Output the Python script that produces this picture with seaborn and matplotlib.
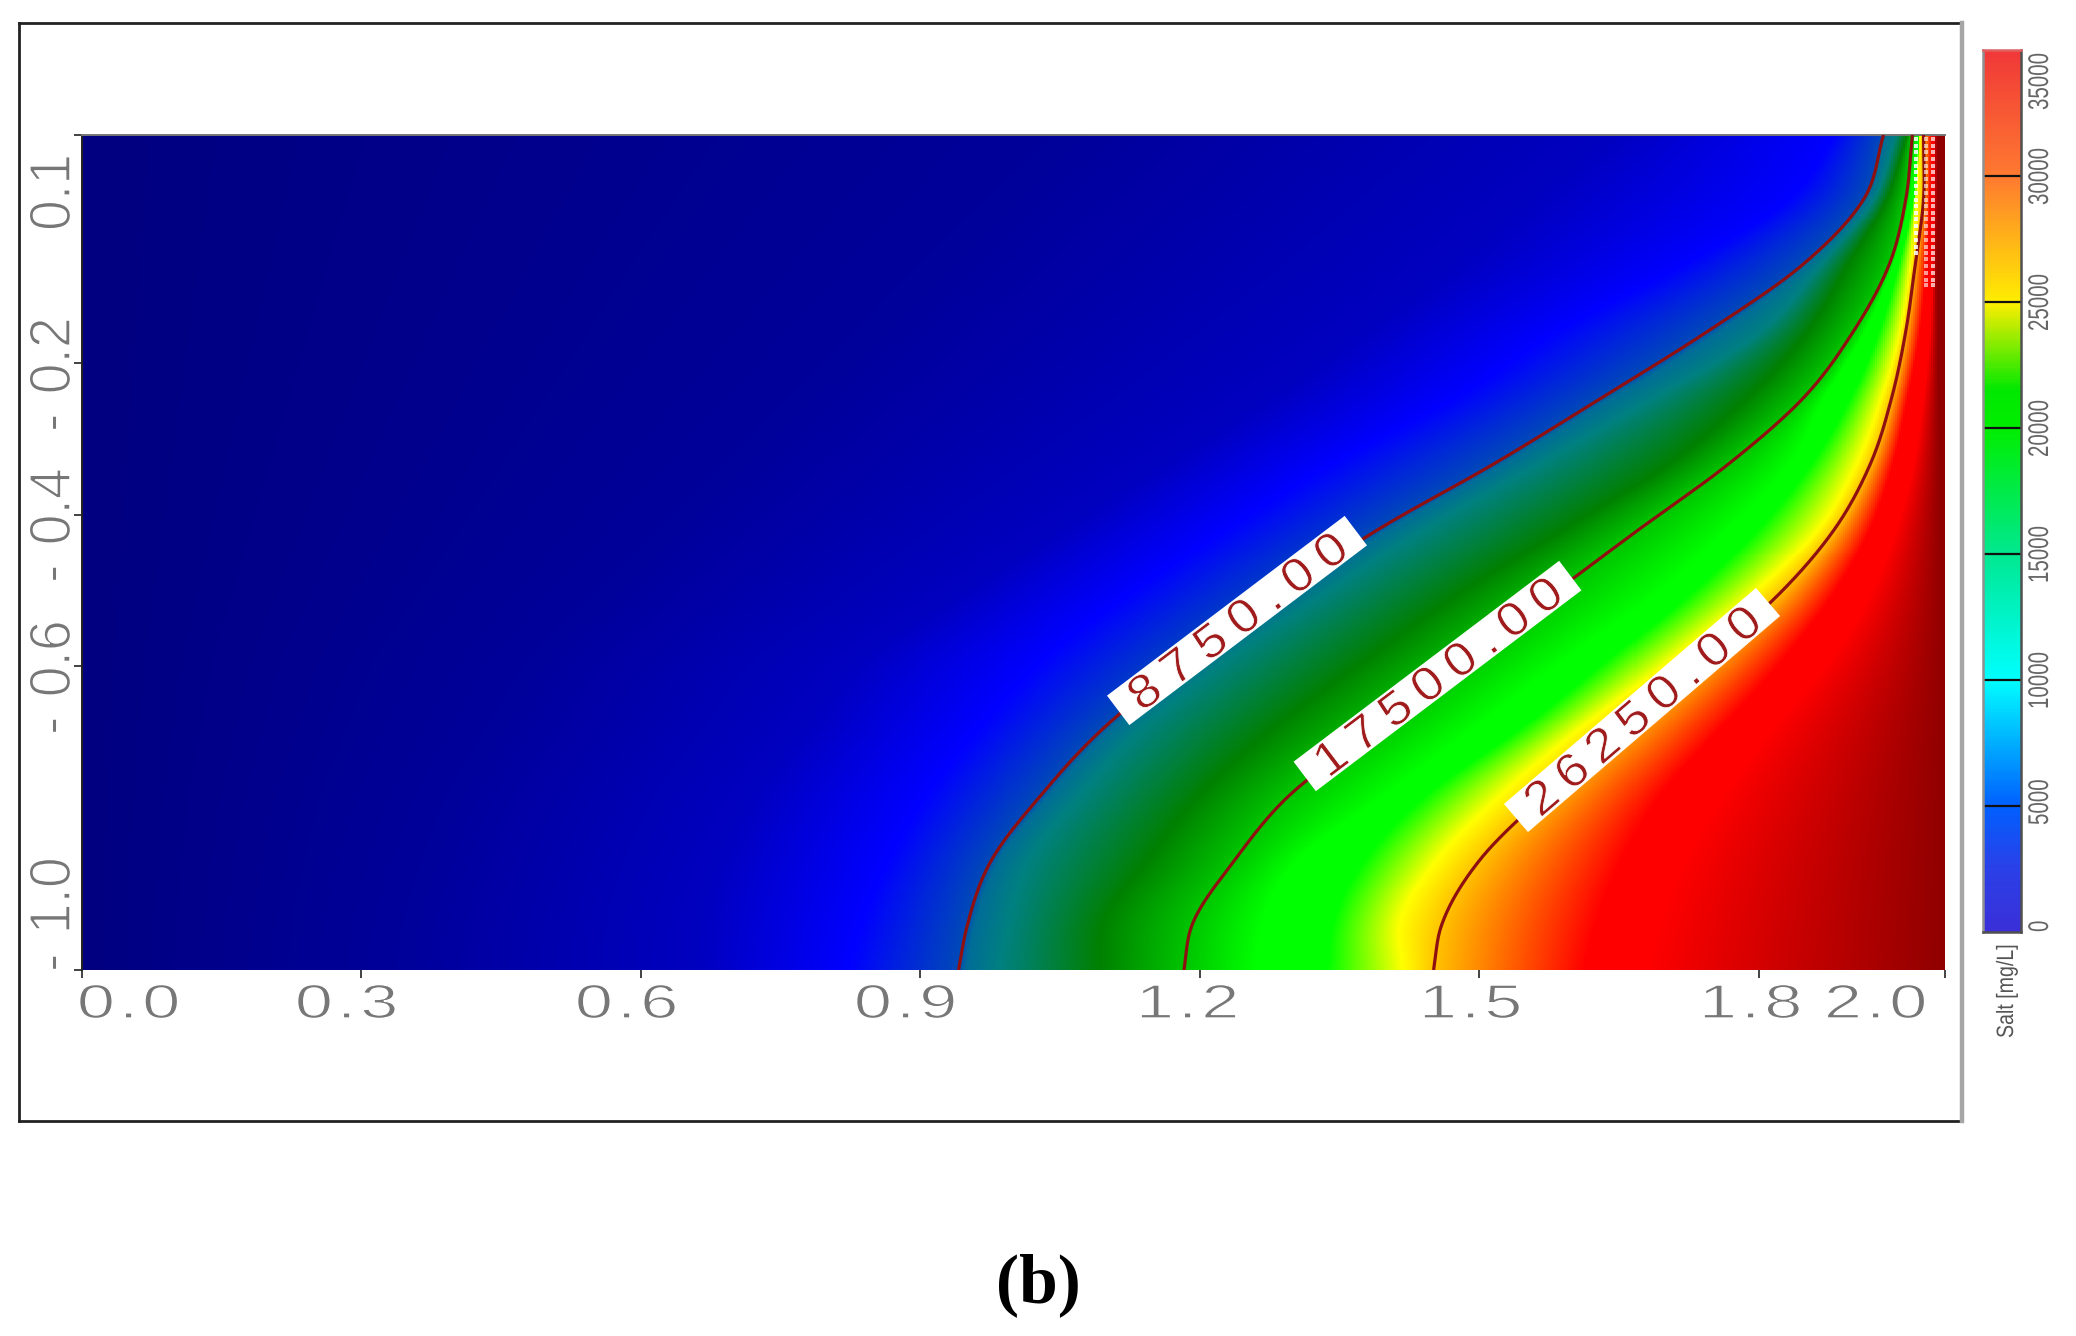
import numpy as np
import matplotlib
matplotlib.use("Agg")
import matplotlib.pyplot as plt
import seaborn as sns
from matplotlib.colors import LinearSegmentedColormap
from matplotlib.patches import Rectangle
from matplotlib.lines import Line2D
from matplotlib.path import Path
from matplotlib.patheffects import AbstractPathEffect
from matplotlib.transforms import Affine2D, IdentityTransform

# ---------- data ----------
depth_rows = [0.100, 0.016, -0.071, -0.158, -0.245, -0.333, -0.420, -0.507, -0.594, -0.681, -0.769, -0.856, -0.943, -1.000]
iso_1000 = [1.050, 0.979, 0.907, 0.836, 0.765, 0.694, 0.623, 0.552, 0.481, 0.438, 0.395, 0.367, 0.346, 0.339]
iso_3000 = [1.647, 1.562, 1.476, 1.377, 1.277, 1.163, 1.050, 0.943, 0.836, 0.779, 0.723, 0.687, 0.668, 0.664]
iso_6000 = [1.882, 1.832, 1.718, 1.583, 1.476, 1.341, 1.227, 1.121, 1.028, 0.964, 0.907, 0.865, 0.836, 0.822]
iso_8750 = [1.934, 1.913, 1.847, 1.746, 1.633, 1.516, 1.391, 1.284, 1.185, 1.097, 1.030, 0.976, 0.950, 0.941]
iso_11000 = [1.948, 1.924, 1.867, 1.803, 1.690, 1.565, 1.440, 1.330, 1.225, 1.138, 1.072, 1.016, 0.994, 0.985]
iso_14500 = [1.960, 1.938, 1.896, 1.853, 1.789, 1.704, 1.590, 1.476, 1.375, 1.280, 1.200, 1.143, 1.095, 1.092]
iso_17500 = [1.965, 1.958, 1.940, 1.902, 1.849, 1.768, 1.671, 1.576, 1.483, 1.391, 1.297, 1.237, 1.191, 1.183]
iso_20000 = [1.9725, 1.963, 1.945, 1.915, 1.872, 1.835, 1.768, 1.690, 1.590, 1.498, 1.402, 1.306, 1.267, 1.260]
iso_21500 = [1.973, 1.967, 1.951, 1.930, 1.900, 1.857, 1.799, 1.725, 1.636, 1.547, 1.445, 1.377, 1.343, 1.338]
iso_25000 = [1.974, 1.970, 1.964, 1.953, 1.933, 1.906, 1.864, 1.792, 1.704, 1.611, 1.525, 1.455, 1.415, 1.419]
iso_26250 = [1.977, 1.977, 1.968, 1.958, 1.943, 1.920, 1.881, 1.820, 1.739, 1.654, 1.571, 1.500, 1.459, 1.451]
iso_30000 = [1.987, 1.985, 1.981, 1.974, 1.961, 1.945, 1.920, 1.880, 1.825, 1.761, 1.696, 1.654, 1.626, 1.614]
iso_31500 = [1.990, 1.990, 1.988, 1.985, 1.978, 1.967, 1.948, 1.920, 1.875, 1.815, 1.761, 1.718, 1.690, 1.677]
iso_35000 = [1.992, 1.992, 1.992, 1.993, 1.994, 1.995, 1.996, 1.998, 2.000, 2.000, 2.000, 2.000, 2.000, 2.000]

contour_levels = [8750, 17500, 26250]
contour_texts = ["8750.00", "17500.00", "26250.00"]
x_ticks = [0.0, 0.3, 0.6, 0.9, 1.2, 1.5, 1.8, 2.0]
x_tick_texts = ["0.0", "0.3", "0.6", "0.9", "1.2", "1.5", "1.8", "2.0"]
y_ticks = [0.1, -0.2, -0.4, -0.6, -1.0]
y_tick_texts = ["0.1", "-0.2", "-0.4", "-0.6", "-1.0"]
cbar_ticks = [35000, 30000, 25000, 20000, 15000, 10000, 5000, 0]
cbar_texts = ["35000", "30000", "25000", "20000", "15000", "10000", "5000", "0"]
cbar_label = "Salt [mg/L]"
panel_label = "(b)"

speckle_x = [1.969, 1.980, 1.987]
speckle_depth = [0.095, 0.086, 0.077, 0.068, 0.059, 0.051, 0.042, 0.033, 0.024, 0.015, 0.006, -0.003,
                 -0.011, -0.020, -0.029, -0.038, -0.047, -0.055, -0.064, -0.073, -0.082, -0.091, -0.098]

# colour stops
plot_stops = [(0, "#000080"), (1000, "#00009a"), (3000, "#0000c0"), (6000, "#0000ff"), (8700, "#0048b8"),
              (9200, "#006c98"), (11000, "#008080"), (14500, "#008000"), (17500, "#00c400"), (20000, "#00ff00"),
              (21500, "#00ff00"), (25000, "#ffff00"), (26250, "#ffc400"), (30000, "#ff0000"), (31500, "#ff0000"),
              (35000, "#900000")]
bar_stops = [(0, "#3a2fd8"), (2500, "#2a40e8"), (5000, "#0060ff"), (10000, "#00ffff"), (15000, "#00e890"),
             (20000, "#00ee00"), (21500, "#00e800"), (25000, "#ffee00"), (30000, "#ff7a30"), (35000, "#f03838")]

VMAX = 35000
W, H = 2076, 1336
sns.set_theme(style="white")
fig = plt.figure(figsize=(W / 100, H / 100), dpi=100, facecolor="white")


def box(x0, y0, x1, y1):
    return [x0 / W, 1 - y1 / H, (x1 - x0) / W, (y1 - y0) / H]


FONT_UNITS = 100.0  # matplotlib text paths are built at 100 units per em
ADV = {"-": 0.333, ".": 0.278}


def advances(s):
    return np.array([ADV.get(ch, 0.556) for ch in s]) * FONT_UNITS


class Tracked(AbstractPathEffect):
    """Widen glyphs by gs and open the gaps between them, and thin strokes with a paper-coloured edge."""

    def __init__(self, s, gs, gap, minus=0.0, thin=0.0):
        super().__init__()
        self.old = np.r_[0.0, np.cumsum(advances(s))]
        new = advances(s) * gs + gap * FONT_UNITS
        new += np.array([minus * FONT_UNITS if ch == "-" else 0.0 for ch in s])
        self.new = np.r_[0.0, np.cumsum(new)]
        self.gs = gs
        self.thin = thin

    def draw_path(self, renderer, gc, tpath, affine, rgbFace=None):
        v = tpath.vertices.copy()
        i = np.clip(np.searchsorted(self.old, v[:, 0], side="right") - 1, 0, self.old.size - 2)
        v[:, 0] = self.new[i] + (v[:, 0] - self.old[i]) * self.gs
        p = Path(v, tpath.codes)
        renderer.draw_path(gc, p, affine, rgbFace)
        if self.thin > 0:
            g = renderer.new_gc()
            g.copy_properties(gc)
            g.set_foreground("white")
            g.set_linewidth(self.thin)
            renderer.draw_path(g, p, affine, None)
            g.restore()


class Stretch(AbstractPathEffect):
    def __init__(self, sx):
        super().__init__()
        self.sx = sx

    def draw_path(self, renderer, gc, tpath, affine, rgbFace=None):
        renderer.draw_path(gc, tpath, Affine2D().scale(self.sx, 1) + affine, rgbFace)


def raw_text(px, py, s, size, rot, color, effect):
    t = fig.text(px, H - py, s, transform=IdentityTransform(), fontsize=size, family="Liberation Sans", color=color,
                 rotation=rot, rotation_mode="anchor", ha="left", va="baseline", zorder=20)
    t.set_path_effects([effect])
    return t


def smooth(q, rows, xs):
    """Cubic Hermite curve through the values read at each row; rows ascending."""
    rows = np.asarray(rows, float)
    xs = np.asarray(xs, float)
    m = np.gradient(xs, rows)
    i = np.clip(np.searchsorted(rows, q) - 1, 0, rows.size - 2)
    h = rows[i + 1] - rows[i]
    t = (q - rows[i]) / h
    return ((2 * t**3 - 3 * t**2 + 1) * xs[i] + (t**3 - 2 * t**2 + t) * h * m[i]
            + (-2 * t**3 + 3 * t**2) * xs[i + 1] + (t**3 - t**2) * h * m[i + 1])


# ---------- main field ----------
levels = [0, 1000, 3000, 6000, 8750, 11000, 14500, 17500, 20000, 21500, 25000, 26250, 30000, 31500, 35000]
isos = [iso_1000, iso_3000, iso_6000, iso_8750, iso_11000, iso_14500, iso_17500, iso_20000, iso_21500,
        iso_25000, iso_26250, iso_30000, iso_31500, iso_35000]
rows_asc = np.array(depth_rows)[::-1]
fine_y = np.linspace(0.1, -1.0, 420)
fine_x = np.linspace(0, 2, 930)
curves = np.array([smooth(fine_y, rows_asc, np.array(c)[::-1]) for c in isos])
grid = np.zeros((fine_y.size, fine_x.size))
for i in range(fine_y.size):
    xs = np.maximum.accumulate(np.r_[0.0, curves[:, i]])
    grid[i] = np.interp(fine_x, xs, levels)

cmap = LinearSegmentedColormap.from_list("field", [(v / VMAX, c) for v, c in plot_stops], N=2048)
pos = box(82, 135, 1945, 970)
ax = fig.add_axes(pos)
sns.heatmap(grid, ax=ax, cmap=cmap, vmin=0, vmax=VMAX, cbar=False, xticklabels=False, yticklabels=False)

ov = fig.add_axes(pos, facecolor="none")
ov.set_xlim(0, 2)
ov.set_ylim(-1.0, 0.1)
for c in (iso_8750, iso_17500, iso_26250):
    ov.plot(smooth(fine_y, rows_asc, np.array(c)[::-1]), fine_y, color="#8f1010", lw=2.3,
            solid_capstyle="butt", zorder=3)
for xv, n, al in zip(speckle_x, (18, 23, 23), (0.85, 0.6, 0.7)):
    ov.scatter([xv] * n, speckle_depth[:n], marker="s", s=7, color="white", alpha=al, linewidths=0, zorder=4)
ov.set_xticks(x_ticks)
ov.set_yticks(y_ticks)
ov.set_xticklabels([])
ov.set_yticklabels([])
ov.tick_params(axis="both", length=5.5, width=1.2, color="#222222", bottom=True, left=True, direction="out")
for side, sp in ov.spines.items():
    sp.set_visible(side in ("top", "left"))
    sp.set_color("#777777" if side == "top" else "#222222")
    sp.set_linewidth(1.4)

# ---------- tick labels ----------
x_left = [80, 298, 578, 857, 1139, 1422, 1702, 1827]
for s, lx in zip(x_tick_texts, x_left):
    raw_text(lx - 3, 1018, s, 34.5, 0, "#777777", Tracked(s, 1.42, 0.09, thin=1.0))
y_start = [231, 432, 583, 735, 972]
for s, ly in zip(y_tick_texts, y_start):
    raw_text(70, ly, s, 42, 90, "#777777", Tracked(s, 0.95, 0.0, minus=0.33, thin=1.1))

# ---------- contour labels ----------
label_boxes = [(1237, 620.5, 37.1, 298), (1437.5, 676, 37.1, 333), (1642, 710, 40.6, 332)]
text_len = [263, 299, 296]
for s, (cx, cy, ang, ln), L in zip(contour_texts, label_boxes, text_len):
    tr = Affine2D().rotate_deg(ang).translate(cx, H - cy)
    fig.add_artist(Rectangle((-ln / 2, -18.5), ln, 37, facecolor="white", edgecolor="none",
                             transform=tr, zorder=15))
    em = 34 * 100 / 72
    gs = 1.12
    base = advances(s).sum() / FONT_UNITS * em * gs
    gap = (L - base) / (len(s) - 1) / em
    a = np.deg2rad(ang)
    shift = -L / 2
    bx = cx + shift * np.cos(a) + 16 * np.sin(a)
    by = cy - shift * np.sin(a) + 16 * np.cos(a)
    raw_text(bx, by, s, 34, ang, "#a01c1c", Tracked(s, gs, gap, thin=0.6))

# ---------- colour bar ----------
cax = fig.add_axes(box(1983, 50, 2021, 932))
bar_cmap = LinearSegmentedColormap.from_list("bar", [(v / VMAX, c) for v, c in bar_stops], N=1024)
sns.heatmap(np.linspace(VMAX, 0, 400)[:, None], ax=cax, cmap=bar_cmap, vmin=0, vmax=VMAX, cbar=False,
            xticklabels=False, yticklabels=False)
cov = fig.add_axes(box(1983, 50, 2021, 932), facecolor="none")
cov.set_xlim(0, 1)
cov.set_ylim(0, VMAX)
cov.set_xticks([])
cov.set_yticks([])
for v in cbar_ticks[1:-1]:
    cov.axhline(v, color="#111111", lw=1.6)
for side, sp in cov.spines.items():
    sp.set_visible(True)
    sp.set_linewidth(1.8)
    sp.set_color({"left": "#909090", "right": "#505050", "top": "#e06060", "bottom": "#505050"}[side])

cbar_y = [110, 205, 331, 457, 583, 709, 825, 932]
for s, ly in zip(cbar_texts, cbar_y):
    raw_text(2048, ly, s, 20.5, 90, "#666666", Stretch(0.72))
raw_text(2013, 1038, cbar_label, 17, 90, "#555555", Stretch(0.83))

# ---------- outer frame ----------
def hline(x0, y0, x1, y1, color, lw):
    fig.add_artist(Line2D([x0, x1], [H - y0, H - y1], transform=IdentityTransform(), color=color, lw=lw,
                          solid_capstyle="projecting"))


hline(19, 23, 1962, 23, "#222222", 2.0)
hline(19, 23, 19, 1121, "#222222", 2.0)
hline(19, 1121, 1962, 1121, "#222222", 2.0)
hline(1962, 23, 1962, 1121, "#a6a6a6", 3.2)

fig.text(1038 / W, 1 - 1302 / H, panel_label, fontsize=50, family="Liberation Serif", weight="bold",
         color="black", ha="center", va="baseline")

fig.savefig("out.png", dpi=100, facecolor="white")
